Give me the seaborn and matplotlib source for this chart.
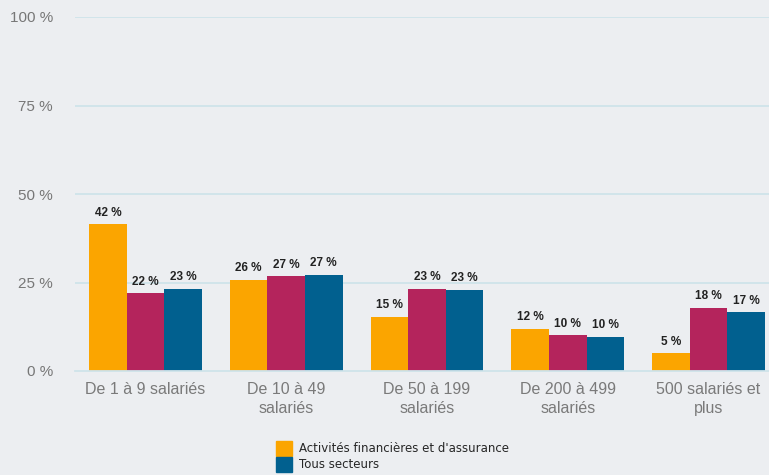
import matplotlib
matplotlib.use('Agg')
import matplotlib.pyplot as plt
import numpy as np
import pandas as pd
import seaborn as sns
from matplotlib.patches import Patch

categories = ['De 1 à 9 salariés', 'De 10 à 49\nsalariés', 'De 50 à 199\nsalariés',
              'De 200 à 499\nsalariés', '500 salariés et\nplus']
finance = [41.5, 25.7, 15.3, 12.0, 5.0]
secteur = [22.0, 26.8, 23.2, 10.1, 17.8]
tous = [23.3, 27.2, 22.9, 9.6, 16.6]
series_names = ["Activités financières et d'assurance", 'Secteur', 'Tous secteurs']
colors = ['#fba500', '#b4245c', '#01608f']
y_ticks = [0, 25, 50, 75, 100]

df = pd.DataFrame({
    'cat': categories * 3,
    'value': finance + secteur + tous,
    'serie': [series_names[0]] * 5 + [series_names[1]] * 5 + [series_names[2]] * 5,
})

sns.set_theme(style='white')
plt.rcParams['font.family'] = ['Liberation Sans', 'DejaVu Sans']

bg = '#eceef1'
grid_c = '#cfe3ea'
fig = plt.figure(figsize=(7.69, 4.75), dpi=100, facecolor=bg)
ax = fig.add_axes([75 / 769, 104 / 475, 704 / 769, 354 / 475])
ax.set_facecolor(bg)

sns.barplot(data=df, x='cat', y='value', hue='serie', palette=colors,
            width=0.8, ax=ax, legend=False, saturation=1, linewidth=0)

for cont in ax.containers:
    labels = [f'{round(b.get_height()):d} %' for b in cont]
    ax.bar_label(cont, labels=labels, padding=4, fontsize=8.5, fontweight='bold', color='#222222')

ax.set_ylim(0, 100)
ax.set_xlim(-0.5, 4.5)
ax.set_yticks(y_ticks)
ax.set_yticklabels([f'{t} %' for t in y_ticks], color='#777777', fontsize=11)
ax.tick_params(axis='y', length=0, pad=16)
for t in y_ticks[1:]:
    ax.axhline(t, color=grid_c, lw=1.3, zorder=0)
ax.set_xticks(range(5))
ax.set_xticklabels(categories, color='#7a7a7a', fontsize=11.5, linespacing=1.3)
ax.set_xticks(np.arange(-0.5, 5, 1), minor=True)
ax.tick_params(axis='x', which='major', length=0, pad=8)
ax.tick_params(axis='x', which='minor', length=10, color=grid_c, width=1.3)
ax.set_xlabel('')
ax.set_ylabel('')
for s in ['top', 'right', 'left']:
    ax.spines[s].set_visible(False)
ax.spines['bottom'].set_color(grid_c)
ax.spines['bottom'].set_linewidth(1.3)

# the legend sits at the bottom edge, as in the source
handles = [Patch(color=colors[0], label=series_names[0]),
           Patch(color=colors[2], label=series_names[2])]
fig.legend(handles=handles, loc='upper left', bbox_to_anchor=(265 / 769, 1 - 430 / 475),
           frameon=False, handlelength=1.4, handleheight=1.6,
           handletextpad=0.6, labelspacing=0.1, prop={'family': 'DejaVu Sans', 'size': 8.5})

fig.savefig('out.png', dpi=100, facecolor=bg)
